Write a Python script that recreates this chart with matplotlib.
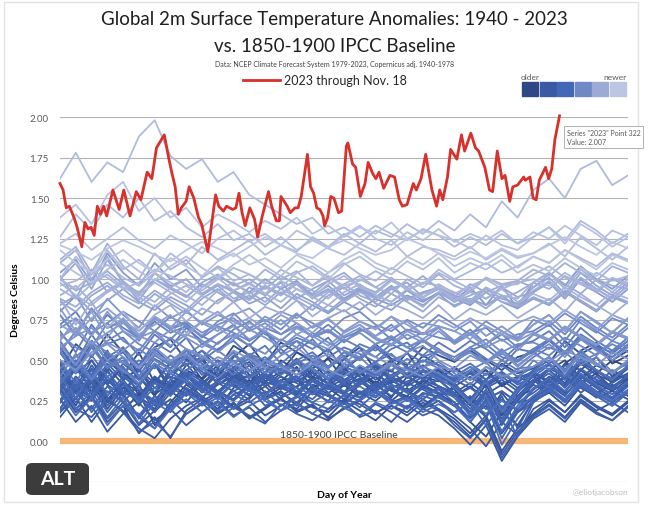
import numpy as np
import matplotlib
matplotlib.use("Agg")
import matplotlib.pyplot as plt
from matplotlib.colors import LinearSegmentedColormap
from matplotlib.patches import FancyBboxPatch, Rectangle

plt.rcParams['font.family'] = ['Lato', 'DejaVu Sans']

# ---- data -------------------------------------------------------------
# historical years read at 37 evenly spaced days, values in 1/100 degC
sample_days = np.linspace(1, 366, 37)

anom_1940s = [
    [35, 48, 30, 44, 58, 40, 28, 45, 52, 38, 47, 55, 41, 36, 50, 44, 39, 52, 46, 35, 48, 43, 55, 40, 37, 46, 38, 44, 34, 40, 41, 30, 48, 55, 42, 50, 46],
    [58, 44, 62, 50, 41, 55, 36, 49, 57, 45, 40, 52, 60, 47, 43, 55, 49, 38, 51, 58, 44, 50, 41, 53, 47, 40, 46, 38, 48, 42, 45, 52, 40, 56, 61, 48, 53],
    [48, 30, 40, 24, 38, 45, 29, 36, 42, 31, 44, 35, 28, 41, 37, 46, 33, 39, 30, 43, 36, 27, 40, 35, 44, 32, 22, 35, 16, 28, 38, 30, 45, 36, 42, 33, 39],
    [30, 46, 37, 52, 42, 35, 48, 31, 44, 39, 50, 42, 36, 47, 40, 33, 45, 51, 38, 43, 49, 36, 41, 47, 39, 45, 38, 44, 35, 40, 36, 44, 50, 39, 47, 42, 38],
    [44, 60, 52, 66, 55, 47, 58, 63, 50, 56, 45, 59, 53, 48, 61, 55, 50, 57, 44, 52, 60, 51, 47, 58, 53, 49, 56, 50, 44, 52, 55, 48, 62, 54, 59, 50, 56],
    [55, 42, 50, 35, 46, 28, 40, 33, 47, 52, 38, 44, 49, 37, 43, 51, 40, 36, 46, 42, 35, 48, 41, 39, 45, 33, 26, 38, 18, 30, 42, 36, 48, 44, 52, 40, 46],
    [36, 22, 41, 27, 18, 30, 10, 24, 35, 28, 20, 33, 38, 26, 31, 22, 35, 29, 24, 37, 30, 25, 33, 21, 28, 34, 15, 22, 5, 18, 27, 33, 25, 38, 30, 35, 28],
    [25, 40, 31, 46, 35, 22, 38, 29, 42, 33, 27, 36, 41, 30, 34, 28, 39, 33, 26, 35, 40, 31, 28, 37, 32, 28, 34, 26, 31, 24, 26, 38, 30, 44, 36, 31, 38],
    [42, 30, 37, 20, 33, 26, 39, 31, 24, 36, 29, 41, 34, 27, 33, 38, 30, 25, 35, 29, 37, 32, 26, 34, 30, 22, 27, 15, 30, 18, 24, 35, 28, 40, 33, 27, 35],
    [20, 35, 26, 38, 29, 15, 8, 22, 33, 25, 30, 21, 27, 34, 26, 20, 31, 28, 23, 30, 25, 33, 27, 22, 29, 24, 12, 3, 18, 10, 25, 30, 22, 34, 27, 31, 26],
]
anom_1950s = [
    [32, 18, 27, 12, 22, 5, 15, 2, 19, 26, 17, 23, 14, 20, 27, 18, 22, 15, 25, 19, 13, 22, 18, 26, 20, 14, 5, 16, -6, 8, 17, 25, 18, 28, 21, 16, 24],
    [18, 27, 36, 24, 33, 28, 20, 35, 29, 38, 31, 26, 36, 41, 33, 29, 38, 34, 30, 37, 42, 35, 31, 38, 34, 30, 36, 29, 35, 28, 32, 40, 35, 44, 38, 33, 41],
    [44, 30, 39, 26, 36, 31, 24, 38, 32, 27, 35, 40, 31, 36, 28, 34, 39, 30, 35, 27, 33, 38, 31, 26, 34, 29, 18, 30, 12, 25, 35, 30, 40, 33, 28, 37, 42],
    [33, 50, 41, 56, 38, 45, 30, 42, 48, 36, 44, 39, 47, 34, 42, 49, 38, 43, 36, 41, 46, 39, 35, 44, 40, 37, 42, 34, 40, 33, 37, 44, 36, 48, 41, 37, 45],
    [32, 20, 28, 14, 24, 10, 19, 26, 17, 23, 29, 20, 25, 16, 22, 28, 21, 18, 26, 23, 17, 24, 28, 20, 25, 16, 8, -3, 12, 4, 20, 26, 18, 29, 22, 17, 25],
    [15, 27, 12, 25, 19, 8, 2, 14, 22, 27, 18, 24, 15, 21, 26, 19, 23, 14, 20, 25, 18, 22, 16, 24, 19, 12, 3, 14, -8, 6, 16, 23, 15, 26, 19, 24, 18],
    [26, 12, 22, 6, 17, 24, 13, 20, 10, 18, 25, 16, 21, 12, 19, 24, 17, 13, 21, 16, 23, 18, 12, 20, 16, 8, -2, 10, -12, 3, 14, 20, 12, 24, 17, 13, 22],
    [20, 32, 25, 38, 28, 34, 22, 36, 41, 30, 37, 43, 35, 40, 32, 45, 38, 34, 42, 37, 44, 39, 35, 43, 38, 34, 40, 33, 38, 31, 38, 45, 40, 49, 43, 38, 46],
    [55, 42, 60, 46, 52, 38, 48, 34, 44, 50, 39, 45, 36, 42, 48, 37, 43, 35, 41, 46, 38, 44, 34, 40, 45, 36, 25, 38, 20, 32, 40, 34, 45, 39, 44, 36, 42],
    [42, 30, 47, 35, 28, 44, 33, 40, 36, 31, 42, 37, 33, 40, 35, 30, 38, 43, 34, 39, 31, 37, 41, 33, 38, 30, 20, 32, 14, 27, 36, 42, 33, 44, 38, 34, 40],
]
anom_1960s = [
    [25, 40, 29, 45, 24, 35, 18, 30, 38, 27, 36, 31, 26, 37, 33, 40, 29, 34, 38, 30, 35, 28, 36, 32, 27, 33, 24, 15, 28, 8, 26, 34, 40, 30, 37, 32, 35],
    [46, 33, 50, 38, 30, 44, 36, 48, 41, 34, 45, 39, 35, 43, 47, 37, 42, 36, 44, 40, 34, 41, 46, 38, 42, 38, 33, 42, 36, 39, 43, 37, 47, 40, 35, 44, 39],
    [30, 45, 33, 48, 38, 26, 40, 32, 43, 37, 31, 39, 44, 34, 40, 36, 30, 41, 35, 38, 43, 33, 37, 41, 34, 29, 16, 30, 10, 26, 38, 32, 44, 36, 40, 33, 41],
    [50, 32, 45, 36, 48, 40, 30, 44, 38, 47, 35, 42, 39, 46, 34, 41, 45, 38, 43, 36, 47, 40, 35, 44, 39, 36, 42, 35, 41, 37, 42, 48, 38, 50, 43, 39, 46],
    [33, 20, 15, 27, 18, 6, 12, 3, 17, 24, 14, 21, 16, 11, 23, 17, 13, 20, 24, 15, 19, 12, 22, 16, 20, 10, 2, 13, -10, 4, 15, 22, 14, 25, 18, 13, 21],
    [18, 30, 20, 34, 24, 15, 28, 20, 31, 25, 19, 29, 33, 22, 27, 31, 24, 20, 29, 25, 32, 26, 21, 30, 27, 22, 28, 20, 26, 19, 24, 32, 26, 36, 29, 24, 31],
    [42, 26, 38, 22, 35, 27, 18, 33, 28, 37, 30, 25, 34, 29, 38, 31, 26, 35, 30, 27, 36, 32, 25, 33, 29, 22, 12, 25, 6, 20, 32, 38, 28, 40, 33, 27, 36],
    [24, 38, 27, 43, 31, 25, 36, 29, 40, 33, 27, 36, 31, 39, 34, 28, 37, 32, 36, 29, 34, 39, 31, 35, 30, 28, 33, 26, 31, 24, 30, 37, 31, 41, 34, 29, 36],
    [38, 24, 34, 18, 30, 14, 26, 21, 33, 27, 22, 31, 36, 26, 30, 24, 33, 28, 23, 31, 27, 34, 25, 29, 32, 24, 14, 26, 2, 18, 28, 35, 29, 38, 31, 26, 34],
    [32, 47, 36, 52, 41, 34, 47, 39, 50, 43, 37, 46, 51, 40, 45, 38, 48, 42, 37, 46, 41, 49, 39, 44, 40, 38, 43, 36, 42, 35, 40, 47, 40, 50, 44, 38, 46],
]
anom_1970s = [
    [47, 33, 44, 28, 40, 32, 25, 38, 43, 31, 37, 34, 29, 40, 35, 31, 38, 33, 29, 37, 32, 39, 30, 35, 38, 29, 18, 32, 12, 27, 38, 44, 34, 45, 38, 32, 41],
    [20, 34, 18, 31, 24, 16, 28, 21, 30, 25, 19, 29, 24, 31, 22, 27, 32, 24, 28, 21, 30, 25, 20, 28, 25, 18, 24, 10, 22, 3, 24, 31, 25, 34, 28, 22, 30],
    [24, 36, 27, 40, 30, 26, 37, 31, 42, 35, 29, 38, 33, 42, 36, 40, 34, 44, 38, 35, 43, 39, 45, 38, 42, 39, 44, 38, 43, 36, 44, 50, 43, 53, 47, 42, 49],
    [58, 45, 62, 50, 55, 43, 57, 48, 53, 41, 50, 46, 40, 49, 44, 38, 47, 42, 36, 45, 40, 48, 39, 44, 41, 35, 25, 38, 20, 33, 43, 48, 38, 50, 44, 38, 46],
    [34, 20, 31, 15, 27, 11, 24, 18, 30, 22, 27, 20, 32, 25, 19, 28, 24, 30, 21, 26, 31, 23, 27, 20, 28, 22, 12, 24, -2, 14, 26, 32, 24, 35, 28, 22, 31],
    [40, 27, 42, 30, 37, 24, 33, 28, 38, 31, 26, 36, 32, 28, 37, 33, 29, 36, 31, 34, 28, 35, 30, 26, 33, 27, 16, 28, 6, 22, 33, 39, 31, 42, 35, 29, 37],
    [30, 16, 27, 10, 22, 17, 8, 20, 26, 18, 24, 15, 22, 27, 19, 23, 17, 25, 21, 16, 24, 20, 26, 18, 23, 18, 24, 17, 25, 20, 28, 34, 26, 37, 30, 25, 32],
    [36, 50, 40, 55, 44, 38, 51, 45, 56, 48, 43, 53, 47, 52, 44, 50, 55, 46, 51, 43, 49, 54, 45, 50, 47, 43, 48, 41, 47, 40, 46, 52, 44, 55, 48, 42, 50],
    [50, 36, 53, 40, 46, 34, 48, 42, 37, 47, 43, 50, 39, 45, 41, 48, 44, 38, 46, 42, 49, 40, 45, 43, 39, 33, 24, 37, 18, 31, 42, 48, 40, 51, 44, 38, 47],
    [35, 48, 38, 54, 42, 50, 45, 53, 47, 56, 49, 44, 54, 50, 57, 48, 53, 46, 55, 51, 58, 50, 54, 49, 56, 50, 55, 48, 56, 50, 57, 63, 55, 66, 60, 54, 62],
]
anom_1980s = [
    [62, 48, 66, 52, 58, 47, 61, 55, 64, 50, 57, 62, 53, 59, 48, 56, 63, 52, 58, 54, 49, 57, 61, 52, 56, 50, 58, 51, 46, 57, 55, 62, 54, 65, 57, 52, 59],
    [68, 55, 72, 60, 64, 53, 66, 58, 70, 62, 56, 65, 59, 68, 54, 62, 57, 64, 52, 60, 56, 63, 58, 53, 61, 55, 62, 57, 50, 59, 62, 68, 58, 70, 62, 56, 64],
    [55, 42, 58, 45, 50, 40, 53, 47, 56, 44, 49, 41, 52, 46, 43, 50, 45, 39, 48, 44, 40, 47, 42, 50, 45, 40, 46, 41, 50, 44, 52, 58, 54, 63, 58, 55, 62],
    [72, 80, 66, 78, 70, 64, 74, 67, 71, 60, 66, 72, 62, 68, 58, 64, 60, 55, 63, 58, 52, 60, 55, 62, 57, 50, 56, 60, 52, 49, 56, 63, 55, 64, 58, 52, 60],
    [56, 42, 59, 46, 52, 40, 55, 48, 43, 52, 46, 55, 44, 50, 47, 41, 50, 45, 53, 42, 48, 44, 51, 46, 42, 36, 44, 49, 38, 45, 46, 52, 44, 56, 48, 42, 50],
    [40, 54, 38, 50, 44, 36, 48, 42, 52, 45, 39, 48, 53, 42, 47, 44, 50, 41, 46, 52, 43, 48, 40, 46, 49, 42, 35, 46, 41, 38, 50, 44, 55, 47, 52, 43, 48],
    [45, 52, 61, 55, 48, 57, 50, 44, 53, 60, 56, 49, 54, 47, 58, 62, 51, 46, 55, 50, 59, 53, 48, 45, 56, 52, 58, 49, 54, 50, 57, 53, 61, 49, 54, 60, 55],
    [55, 68, 58, 73, 62, 56, 68, 63, 72, 65, 60, 69, 74, 66, 62, 70, 65, 72, 64, 68, 71, 63, 69, 66, 70, 61, 67, 70, 62, 66, 68, 74, 66, 77, 70, 64, 72],
    [78, 65, 82, 70, 74, 62, 76, 69, 73, 64, 71, 67, 62, 70, 66, 73, 64, 68, 61, 69, 65, 72, 63, 67, 64, 62, 69, 60, 66, 58, 66, 72, 62, 75, 68, 62, 70],
    [66, 58, 53, 62, 68, 60, 55, 64, 57, 51, 61, 66, 59, 54, 63, 58, 67, 61, 56, 52, 60, 65, 58, 62, 55, 50, 58, 63, 55, 60, 61, 57, 64, 59, 53, 62, 58],
]
anom_1990s = [
    [70, 76, 67, 73, 80, 74, 68, 77, 71, 65, 74, 79, 70, 75, 69, 78, 73, 67, 76, 80, 72, 68, 75, 70, 78, 72, 66, 74, 68, 63, 75, 71, 79, 73, 67, 76, 72],
    [78, 66, 82, 70, 75, 64, 77, 70, 74, 67, 72, 76, 68, 73, 66, 71, 65, 69, 62, 67, 60, 64, 58, 63, 56, 50, 55, 49, 57, 47, 54, 60, 52, 63, 56, 50, 58],
    [60, 47, 62, 50, 56, 45, 58, 50, 54, 46, 52, 48, 43, 50, 46, 41, 48, 44, 40, 47, 42, 48, 44, 40, 46, 44, 38, 46, 40, 43, 46, 52, 42, 54, 48, 42, 50],
    [50, 44, 55, 60, 52, 46, 54, 49, 57, 53, 47, 56, 51, 45, 53, 58, 50, 54, 48, 56, 52, 47, 55, 59, 50, 45, 53, 48, 55, 46, 54, 49, 56, 52, 47, 55, 51],
    [58, 65, 70, 61, 56, 64, 68, 59, 66, 62, 55, 63, 69, 64, 58, 66, 61, 57, 65, 70, 63, 59, 66, 61, 68, 60, 66, 58, 63, 56, 66, 62, 70, 64, 59, 67, 63],
    [80, 90, 74, 88, 78, 70, 84, 76, 81, 72, 78, 74, 69, 77, 72, 79, 70, 75, 68, 74, 70, 77, 68, 73, 71, 68, 74, 65, 71, 64, 72, 78, 68, 80, 74, 67, 76],
    [64, 70, 60, 67, 73, 65, 61, 69, 64, 58, 66, 71, 63, 68, 62, 70, 65, 59, 67, 72, 64, 60, 68, 63, 70, 62, 67, 60, 68, 62, 67, 63, 71, 65, 60, 68, 64],
    [62, 75, 65, 80, 68, 63, 76, 70, 80, 73, 68, 78, 82, 74, 80, 76, 84, 79, 86, 81, 88, 84, 90, 86, 92, 87, 95, 84, 96, 82, 98, 104, 96, 108, 100, 94, 102],
    [104, 112, 98, 116, 104, 96, 110, 100, 106, 95, 102, 97, 92, 100, 94, 99, 90, 96, 88, 94, 90, 86, 93, 87, 91, 88, 84, 92, 86, 82, 92, 98, 88, 100, 92, 86, 94],
    [82, 68, 80, 64, 76, 66, 72, 78, 67, 74, 70, 64, 73, 68, 75, 66, 71, 76, 67, 72, 65, 70, 74, 66, 71, 68, 63, 71, 66, 62, 72, 78, 68, 80, 73, 67, 76],
]
anom_2000s = [
    [72, 66, 76, 82, 74, 68, 77, 71, 65, 74, 80, 72, 76, 70, 78, 73, 67, 76, 81, 74, 69, 77, 72, 66, 75, 70, 76, 71, 66, 73, 77, 73, 81, 75, 69, 78, 74],
    [84, 90, 80, 87, 94, 86, 81, 89, 84, 78, 87, 92, 85, 89, 82, 91, 86, 80, 88, 93, 85, 81, 89, 84, 91, 83, 88, 84, 90, 82, 88, 84, 92, 86, 80, 89, 85],
    [100, 110, 94, 112, 98, 90, 104, 96, 100, 91, 97, 93, 88, 96, 91, 98, 89, 94, 87, 93, 89, 96, 88, 92, 95, 90, 86, 94, 88, 85, 95, 101, 91, 104, 96, 90, 98],
    [102, 88, 106, 92, 98, 87, 100, 94, 89, 97, 92, 86, 95, 90, 98, 88, 94, 99, 90, 95, 88, 94, 98, 89, 94, 86, 93, 88, 95, 89, 92, 98, 90, 101, 94, 88, 96],
    [86, 80, 90, 96, 88, 82, 91, 85, 79, 88, 94, 86, 90, 84, 92, 87, 81, 90, 95, 88, 83, 91, 86, 80, 89, 84, 88, 82, 90, 83, 89, 85, 93, 87, 81, 90, 86],
    [100, 93, 98, 105, 97, 92, 100, 95, 89, 98, 103, 96, 100, 94, 102, 97, 91, 99, 104, 96, 92, 100, 95, 102, 94, 89, 97, 92, 96, 99, 95, 103, 97, 91, 100, 96, 94],
    [88, 83, 92, 98, 90, 85, 93, 87, 81, 90, 96, 88, 92, 86, 94, 89, 84, 92, 97, 90, 86, 94, 89, 83, 92, 86, 90, 94, 88, 92, 98, 94, 102, 97, 92, 100, 96],
    [110, 118, 100, 114, 98, 90, 104, 95, 100, 91, 97, 92, 87, 95, 90, 97, 88, 93, 86, 92, 88, 95, 87, 91, 94, 89, 85, 92, 86, 84, 93, 99, 89, 101, 94, 88, 96],
    [88, 72, 86, 70, 80, 68, 78, 84, 74, 82, 78, 86, 76, 83, 79, 87, 77, 84, 80, 86, 78, 85, 81, 76, 84, 75, 82, 78, 84, 76, 82, 88, 80, 91, 84, 78, 86],
    [90, 96, 86, 93, 99, 91, 86, 95, 90, 84, 93, 98, 91, 96, 90, 98, 93, 88, 97, 102, 95, 91, 100, 95, 103, 96, 92, 101, 97, 99, 106, 102, 110, 104, 99, 108, 104],
]
anom_2010s = [
    [112, 120, 104, 122, 108, 100, 116, 106, 112, 101, 108, 103, 97, 106, 100, 105, 96, 102, 94, 100, 95, 101, 93, 98, 96, 92, 87, 95, 90, 88, 98, 104, 94, 106, 99, 92, 100],
    [98, 90, 84, 92, 97, 89, 83, 91, 96, 90, 85, 93, 98, 91, 86, 94, 89, 84, 92, 97, 90, 86, 94, 89, 95, 87, 92, 88, 94, 86, 91, 87, 95, 89, 84, 92, 88],
    [94, 88, 97, 103, 95, 90, 98, 92, 86, 95, 101, 93, 97, 91, 99, 94, 89, 97, 102, 95, 91, 99, 94, 88, 97, 91, 96, 100, 94, 98, 100, 96, 104, 98, 93, 101, 97],
    [96, 99, 105, 101, 94, 98, 106, 102, 97, 93, 100, 107, 103, 98, 95, 104, 108, 101, 96, 99, 105, 100, 94, 97, 104, 99, 94, 101, 96, 97, 103, 108, 101, 97, 104, 99, 102],
    [100, 94, 103, 109, 101, 96, 104, 98, 92, 101, 107, 99, 103, 97, 106, 101, 96, 104, 110, 103, 99, 107, 102, 97, 106, 100, 105, 110, 104, 108, 114, 110, 118, 113, 108, 116, 112],
    [100, 114, 103, 118, 106, 112, 104, 116, 109, 120, 112, 118, 124, 115, 121, 117, 126, 120, 128, 122, 130, 126, 134, 128, 136, 130, 140, 132, 148, 138, 155, 162, 150, 168, 173, 158, 164],
    [162, 178, 160, 172, 166, 188, 198, 176, 168, 174, 160, 166, 152, 146, 140, 134, 138, 128, 132, 126, 133, 128, 124, 131, 127, 120, 126, 121, 128, 122, 126, 132, 124, 136, 130, 122, 128],
    [126, 140, 130, 146, 138, 150, 136, 142, 132, 126, 134, 124, 128, 120, 126, 118, 124, 119, 115, 122, 117, 124, 114, 120, 118, 114, 120, 112, 118, 113, 116, 122, 114, 126, 119, 112, 120],
    [110, 104, 98, 106, 112, 105, 99, 108, 114, 107, 101, 109, 115, 108, 102, 111, 106, 100, 109, 114, 107, 103, 111, 106, 113, 104, 110, 106, 112, 104, 109, 105, 113, 107, 102, 110, 106],
    [122, 128, 118, 125, 132, 124, 119, 127, 122, 116, 125, 130, 123, 128, 121, 130, 125, 119, 127, 133, 125, 121, 129, 124, 131, 123, 128, 124, 130, 122, 129, 125, 133, 127, 121, 130, 126],
]
anom_2020s = [
    [138, 146, 134, 152, 160, 142, 150, 138, 144, 132, 140, 135, 129, 136, 131, 138, 128, 133, 126, 132, 128, 135, 125, 130, 127, 124, 119, 127, 121, 118, 126, 132, 122, 134, 128, 120, 126],
    [118, 110, 104, 112, 118, 110, 104, 113, 108, 102, 111, 116, 109, 113, 107, 115, 110, 104, 112, 117, 110, 106, 114, 109, 116, 108, 113, 109, 115, 107, 114, 110, 118, 112, 106, 115, 111],
    [121, 117, 112, 119, 124, 120, 115, 111, 118, 123, 119, 114, 120, 126, 121, 116, 113, 120, 124, 119, 115, 118, 125, 121, 116, 112, 117, 113, 119, 114, 116, 121, 126, 120, 115, 123, 119],
]

# 2023 through Nov. 18 (day of year, degC)
days_2023 = [1, 3, 5, 7, 10, 12, 15, 17, 19, 21, 23, 25, 27, 29, 31, 35, 39, 42, 46, 50,
             53, 57, 60, 63, 68, 71, 73, 75, 77, 79, 82, 84, 87, 90, 92, 96, 98, 101, 103, 106,
             108, 112, 114, 116, 118, 120, 123, 126, 128, 131, 135, 137, 140, 142, 143, 145, 147, 149, 152, 154,
             156, 158, 160, 162, 164, 166, 168, 170, 171, 173, 175, 177, 180, 182, 185, 186, 189, 191, 194, 197,
             199, 202, 204, 206, 209, 213, 216, 219, 221, 224, 228, 230, 233, 236, 240, 243, 245, 247, 250, 252,
             256, 259, 261, 265, 268, 270, 274, 277, 279, 282, 285, 287, 290, 292, 295, 299, 300, 303, 305, 307,
             309, 313, 315, 317, 319, 322]
temps_2023 = [1.59, 1.55, 1.44, 1.45, 1.38, 1.32, 1.20, 1.35, 1.31, 1.32, 1.27, 1.45, 1.40, 1.45, 1.39, 1.55, 1.43, 1.55, 1.39, 1.54,
              1.49, 1.66, 1.62, 1.81, 1.89, 1.74, 1.65, 1.57, 1.40, 1.44, 1.48, 1.57, 1.50, 1.38, 1.34, 1.17, 1.31, 1.52, 1.45, 1.42,
              1.45, 1.43, 1.44, 1.53, 1.41, 1.33, 1.44, 1.37, 1.26, 1.39, 1.54, 1.45, 1.36, 1.36, 1.51, 1.48, 1.45, 1.41, 1.44, 1.44,
              1.51, 1.64, 1.77, 1.57, 1.53, 1.44, 1.43, 1.39, 1.33, 1.38, 1.51, 1.50, 1.41, 1.42, 1.82, 1.84, 1.71, 1.69, 1.51, 1.59,
              1.72, 1.65, 1.62, 1.66, 1.56, 1.64, 1.63, 1.49, 1.45, 1.46, 1.59, 1.55, 1.62, 1.77, 1.55, 1.45, 1.55, 1.49, 1.63, 1.80,
              1.74, 1.89, 1.79, 1.90, 1.81, 1.79, 1.69, 1.55, 1.54, 1.79, 1.62, 1.64, 1.48, 1.57, 1.58, 1.63, 1.61, 1.63, 1.50, 1.49,
              1.61, 1.69, 1.62, 1.68, 1.86, 2.007]

y_ticks = [-0.25, 0.0, 0.25, 0.5, 0.75, 1.0, 1.25, 1.5, 1.75, 2.0]
swatch_colors = ['#2E4886', '#3A5AA4', '#4468B8', '#7089C6', '#9DAAD6', '#BCC5E2']

# ---- figure -----------------------------------------------------------
hist = (anom_1940s + anom_1950s + anom_1960s + anom_1970s + anom_1980s
        + anom_1990s + anom_2000s + anom_2010s + anom_2020s)
cmap = LinearSegmentedColormap.from_list('age', swatch_colors)

fig = plt.figure(figsize=(6.5, 5.06), dpi=100)
fig.patch.set_facecolor('white')
ax = fig.add_axes([60 / 650, 1 - 483 / 506, 568 / 650, 365 / 506])

for v in y_ticks:
    ax.axhline(v, color='#B4B4B4', lw=0.8, zorder=1)
ax.axhline(0, color='#F6B779', lw=4.5, zorder=1.5)

n = len(hist)
for i, vals in enumerate(hist):
    ax.plot(sample_days, np.array(vals) / 100, color=cmap(i / (n - 1)), lw=1.3, zorder=2)

red, = ax.plot(days_2023, temps_2023, color='#D8302A', lw=2.0, zorder=5, clip_on=False,
               label='2023 through Nov. 18')

ax.text(180, 0.015, '1850-1900 IPCC Baseline', ha='center', va='bottom', fontsize=7.5, color='#404040', zorder=6)

ax.set_xlim(1, 366)
ax.set_ylim(-0.25, 2.0)
ax.set_xticks([])
ax.set_yticks(y_ticks)
ax.set_yticklabels([f'{v:.2f}' for v in y_ticks])
ax.tick_params(axis='y', length=0, pad=8, labelsize=7, labelcolor='#595959')
for s in ax.spines.values():
    s.set_visible(False)
ax.set_ylabel('Degrees Celsius', fontsize=7.5, fontweight='bold')
ax.yaxis.set_label_coords(-40 / 568, 0.5)
ax.set_xlabel('Day of Year', fontsize=7.5, fontweight='bold', labelpad=6)

# titles
fig.text(0.515, 1 - 20 / 506, 'Global 2m Surface Temperature Anomalies: 1940 - 2023',
         ha='center', va='center', fontsize=13.5, color='#1E1E1E')
fig.text(0.515, 1 - 46 / 506, 'vs. 1850-1900 IPCC Baseline', ha='center', va='center', fontsize=13.5, color='#1E1E1E')
fig.text(0.515, 1 - 64 / 506, 'Data: NCEP Climate Forecast System 1979-2023, Copernicus adj. 1940-1978',
         ha='center', va='center', fontsize=5, color='#404040')

ax.legend(handles=[red], loc='center', bbox_to_anchor=(0.5, 1 - 81 / 506), bbox_transform=fig.transFigure,
          frameon=False, fontsize=9, handlelength=3.0, handletextpad=0.3, labelcolor='#262626')

# older / newer swatches
for i, c in enumerate(swatch_colors):
    fig.add_artist(Rectangle(((522 + i * 17.6) / 650, 1 - 97 / 506), 16 / 650, 14 / 506,
                             transform=fig.transFigure, color=c))
fig.text(521 / 650, 1 - 77 / 506, 'older', fontsize=6, color='#595959', va='center')
fig.text(627 / 650, 1 - 77 / 506, 'newer', fontsize=6, color='#595959', va='center', ha='right')

# tooltip on the last 2023 point
fig.text(567 / 650, 1 - 138 / 506, 'Series "2023" Point 322\nValue: 2.007', fontsize=5, color='#595959',
         va='center', ha='left', linespacing=1.4,
         bbox=dict(boxstyle='square,pad=0.4', fc='white', ec='#A6A6A6', lw=0.6), zorder=10)

fig.text(628 / 650, 1 - 493 / 506, '@eliotjacobson', fontsize=6, color='#BFBFBF', ha='right', va='center')

# ALT badge
fig.add_artist(FancyBboxPatch((26 / 650, 1 - 496 / 506), 63 / 650, 32 / 506,
                              boxstyle='round,pad=0,rounding_size=0.01',
                              transform=fig.transFigure, fc='#3C3C3C', ec='none', zorder=20))
fig.text(57.5 / 650, 1 - 480 / 506, 'ALT', fontsize=14, fontweight='bold', color='white',
         ha='center', va='center', zorder=21)

fig.add_artist(Rectangle((4 / 650, 3 / 506), 634 / 650, 500 / 506, transform=fig.transFigure,
                         fill=False, ec='#E3E3E3', lw=1))

fig.savefig('out.png', dpi=100)
